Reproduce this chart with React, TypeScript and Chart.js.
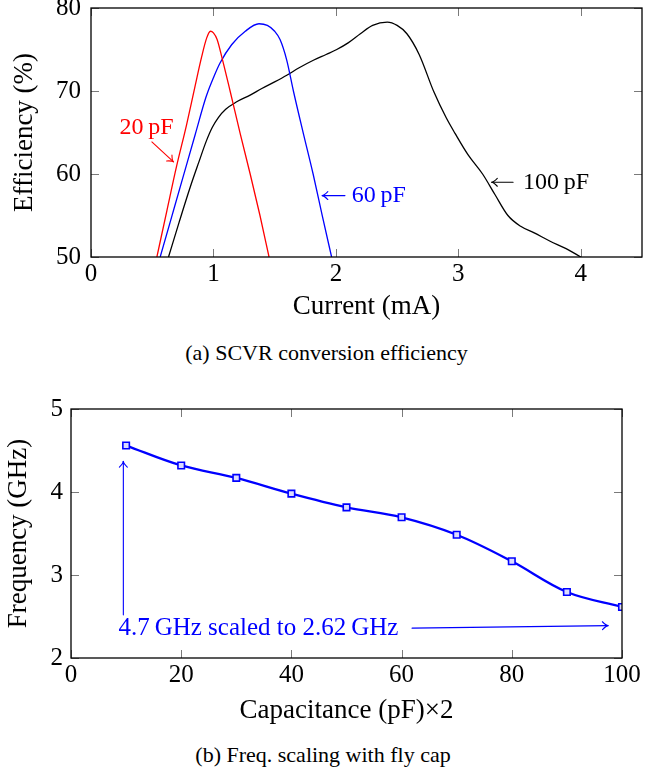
import React, { useEffect, useRef } from 'react';
import { Chart, registerables } from 'chart.js';

Chart.register(...registerables);

const SERIF = "'Liberation Serif', 'Times New Roman', Times, serif";

// ---------------- (a) SCVR conversion efficiency ----------------
const effXTicks = [0, 1, 2, 3, 4];
const effYTicks = [50, 60, 70, 80];

const cap20X = [0.538, 0.62, 0.7, 0.78, 0.85, 0.905, 0.945, 0.975, 1.0, 1.03, 1.07, 1.136, 1.218, 1.3, 1.38, 1.454];
const cap20Y = [50, 55.6, 61.0, 65.9, 70.6, 74.2, 76.4, 77.2, 77.0, 76.2, 74.0, 70, 64.9, 60, 55, 50];

const cap60X = [0.565, 0.66, 0.755, 0.85, 0.94, 1.0, 1.055, 1.15, 1.26, 1.372, 1.44, 1.5, 1.544, 1.599, 1.653, 1.734, 1.814, 1.89, 1.965];
const cap60Y = [50, 54.9, 59.8, 64.7, 69.3, 71.6, 73.4, 75.6, 77.2, 78.1, 77.9, 77.2, 76.2, 73.7, 70, 64.9, 60, 54.9, 50];

const cap100X = [0.633, 0.72, 0.81, 0.88, 0.94, 0.99, 1.04, 1.1, 1.19, 1.3, 1.395, 1.5, 1.599, 1.7, 1.816, 1.92, 2.007, 2.1, 2.2, 2.3, 2.42, 2.5, 2.58, 2.68, 2.8, 2.9, 2.973, 3.08, 3.198, 3.3, 3.405, 3.509, 3.62, 3.75, 3.88, 4.0];
const cap100Y = [50, 54.2, 58.4, 61.4, 63.9, 65.6, 66.8, 67.8, 68.7, 69.5, 70.3, 71.1, 71.9, 72.8, 73.7, 74.4, 75.0, 75.8, 76.9, 77.9, 78.3, 77.9, 76.9, 74.4, 69.9, 66.8, 64.9, 62.3, 60.0, 57.5, 55.0, 53.7, 52.9, 51.9, 51.0, 50];

const effSeriesNames = ['20 pF', '60 pF', '100 pF'];
const effSeriesColors = ['#ff0000', '#0000ff', '#000000'];
const effLabelText = ['20\u2009pF', '60\u2009pF', '100\u2009pF'];
const effLabelX = [0.233, 2.13, 3.528];
const effLabelY = [65.6, 57.4, 59.0];
const effArrowX1 = [0.497, 2.074, 3.447];
const effArrowY1 = [63.86, 57.4, 59.0];
const effArrowX2 = [0.674, 1.887, 3.271];
const effArrowY2 = [61.45, 57.4, 59.0];

// ---------------- (b) Freq. scaling with fly cap ----------------
const capValues = [10, 20, 30, 40, 50, 60, 70, 80, 90, 100];
const freqValues = [4.56, 4.32, 4.17, 3.98, 3.815, 3.695, 3.485, 3.165, 2.795, 2.615];
const freqXTicks = [0, 20, 40, 60, 80, 100];
const freqYTicks = [2, 3, 4, 5];
const freqNote = '4.7\u2009GHz scaled to 2.62\u2009GHz';
const freqNoteX = 8.6;
const freqNoteY = 2.36;
const freqArrowX1 = [9.5, 61.9];
const freqArrowY1 = [2.52, 2.36];
const freqArrowX2 = [9.5, 97.5];
const freqArrowY2 = [4.37, 2.39];

// ---------------- helpers ----------------
function drawArrow(ctx: CanvasRenderingContext2D, x1: number, y1: number, x2: number, y2: number, color: string, lw: number) {
  ctx.save();
  ctx.strokeStyle = color;
  ctx.lineWidth = lw;
  ctx.lineCap = 'round';
  ctx.beginPath();
  ctx.moveTo(x1, y1);
  ctx.lineTo(x2, y2);
  ctx.stroke();
  const a = Math.atan2(y2 - y1, x2 - x1);
  const h = 7;
  const spread = 0.6;
  ctx.beginPath();
  ctx.moveTo(x2 - h * Math.cos(a - spread), y2 - h * Math.sin(a - spread));
  ctx.quadraticCurveTo(x2 - 2 * Math.cos(a), y2 - 2 * Math.sin(a), x2, y2);
  ctx.quadraticCurveTo(x2 - 2 * Math.cos(a), y2 - 2 * Math.sin(a), x2 - h * Math.cos(a + spread), y2 - h * Math.sin(a + spread));
  ctx.stroke();
  ctx.restore();
}

const framePlugin = {
  id: 'pgfFrame',
  afterDatasetsDraw(chart: any) {
    const { ctx, chartArea: a, scales } = chart;
    const L = 8;
    ctx.save();
    ctx.strokeStyle = '#7a7a7a';
    ctx.lineWidth = 1;
    for (const t of scales.x.ticks) {
      const px = Math.round(scales.x.getPixelForValue(t.value)) + 0.5;
      ctx.beginPath();
      ctx.moveTo(px, a.bottom);
      ctx.lineTo(px, a.bottom - L);
      ctx.moveTo(px, a.top);
      ctx.lineTo(px, a.top + L);
      ctx.stroke();
    }
    for (const t of scales.y.ticks) {
      const py = Math.round(scales.y.getPixelForValue(t.value)) + 0.5;
      ctx.beginPath();
      ctx.moveTo(a.left, py);
      ctx.lineTo(a.left + L, py);
      ctx.moveTo(a.right, py);
      ctx.lineTo(a.right - L, py);
      ctx.stroke();
    }
    ctx.strokeStyle = '#000';
    ctx.lineWidth = 1.3;
    ctx.strokeRect(a.left, a.top, a.right - a.left, a.bottom - a.top);
    ctx.restore();
  },
};

const effNotesPlugin = {
  id: 'effNotes',
  afterDatasetsDraw(chart: any) {
    const { ctx, scales } = chart;
    const sx = scales.x;
    const sy = scales.y;
    for (let i = 0; i < effLabelText.length; i++) {
      drawArrow(
        ctx,
        sx.getPixelForValue(effArrowX1[i]),
        sy.getPixelForValue(effArrowY1[i]),
        sx.getPixelForValue(effArrowX2[i]),
        sy.getPixelForValue(effArrowY2[i]),
        effSeriesColors[i],
        1.1
      );
      ctx.save();
      ctx.fillStyle = effSeriesColors[i];
      ctx.font = `24px ${SERIF}`;
      ctx.textAlign = 'left';
      ctx.textBaseline = 'middle';
      ctx.fillText(effLabelText[i], sx.getPixelForValue(effLabelX[i]), sy.getPixelForValue(effLabelY[i]));
      ctx.restore();
    }
  },
};

const freqNotesPlugin = {
  id: 'freqNotes',
  afterDatasetsDraw(chart: any) {
    const { ctx, scales } = chart;
    const sx = scales.x;
    const sy = scales.y;
    for (let i = 0; i < freqArrowX1.length; i++) {
      drawArrow(
        ctx,
        sx.getPixelForValue(freqArrowX1[i]),
        sy.getPixelForValue(freqArrowY1[i]),
        sx.getPixelForValue(freqArrowX2[i]),
        sy.getPixelForValue(freqArrowY2[i]),
        '#0000ff',
        1.1
      );
    }
    ctx.save();
    ctx.fillStyle = '#0000ff';
    ctx.font = `25px ${SERIF}`;
    ctx.textAlign = 'left';
    ctx.textBaseline = 'middle';
    ctx.fillText(freqNote, sx.getPixelForValue(freqNoteX), sy.getPixelForValue(freqNoteY));
    ctx.restore();
  },
};

function fixedBox(size: number, horizontal: boolean) {
  return (s: any) => {
    if (horizontal) s.height = size;
    else s.width = size;
    s.paddingLeft = 0;
    s.paddingRight = 0;
    s.paddingTop = 0;
    s.paddingBottom = 0;
  };
}

function tickFont() {
  return { family: SERIF, size: 25, lineHeight: 1.2 };
}
function titleFont() {
  return { family: SERIF, size: 27, lineHeight: 1.2 };
}
const noGrid = { display: false, drawTicks: false, tickLength: 0 };

function buildEff(canvas: HTMLCanvasElement) {
  const xs = [cap20X, cap60X, cap100X];
  const ys = [cap20Y, cap60Y, cap100Y];
  return new Chart(canvas, {
    type: 'line',
    data: {
      datasets: effSeriesNames.map((name, i) => ({
        label: name,
        data: xs[i].map((x, j) => ({ x, y: ys[i][j] })),
        borderColor: effSeriesColors[i],
        backgroundColor: effSeriesColors[i],
        borderWidth: 1.3,
        pointRadius: 0,
        cubicInterpolationMode: 'monotone',
        fill: false,
      })),
    },
    options: {
      responsive: false,
      animation: false,
      devicePixelRatio: 1,
      layout: { padding: { left: 0, top: 8, right: 20, bottom: 0 } },
      plugins: { legend: { display: false }, tooltip: { enabled: false } },
      scales: {
        x: {
          type: 'linear',
          min: 0,
          max: 4.5,
          grid: noGrid,
          border: { display: false },
          ticks: { color: '#000', font: tickFont(), padding: 2, maxRotation: 0, autoSkip: false },
          title: { display: true, text: 'Current (mA)', color: '#000', font: titleFont(), padding: { top: 0, bottom: 12 } },
          afterBuildTicks: (s: any) => {
            s.ticks = effXTicks.map((v) => ({ value: v }));
          },
          afterFit: fixedBox(78, true),
        },
        y: {
          type: 'linear',
          min: 50,
          max: 80,
          grid: noGrid,
          border: { display: false },
          ticks: { color: '#000', font: tickFont(), padding: 10 },
          title: { display: true, text: 'Efficiency (%)', color: '#000', font: titleFont(), padding: { top: 9, bottom: 0 } },
          afterBuildTicks: (s: any) => {
            s.ticks = effYTicks.map((v) => ({ value: v }));
          },
          afterFit: fixedBox(91, false),
        },
      },
    } as any,
    plugins: [framePlugin, effNotesPlugin],
  });
}

function buildFreq(canvas: HTMLCanvasElement) {
  return new Chart(canvas, {
    type: 'line',
    data: {
      datasets: [
        {
          label: 'Frequency',
          data: capValues.map((x, i) => ({ x, y: freqValues[i] })),
          borderColor: '#0000ff',
          backgroundColor: '#ffffff',
          borderWidth: 2.4,
          tension: 0.35,
          pointStyle: 'rect',
          pointRadius: 4.6,
          pointBorderWidth: 1.6,
          pointBorderColor: '#0000ff',
          pointBackgroundColor: '#dcdcff',
          fill: false,
        },
      ],
    },
    options: {
      responsive: false,
      animation: false,
      devicePixelRatio: 1,
      layout: { padding: { left: 0, top: 19, right: 40, bottom: 0 } },
      plugins: { legend: { display: false }, tooltip: { enabled: false } },
      scales: {
        x: {
          type: 'linear',
          min: 0,
          max: 100,
          grid: noGrid,
          border: { display: false },
          ticks: { color: '#000', font: tickFont(), padding: 2, maxRotation: 0, autoSkip: false },
          title: { display: true, text: 'Capacitance (pF)\u00d72', color: '#000', font: titleFont(), padding: { top: 0, bottom: 8 } },
          afterBuildTicks: (s: any) => {
            s.ticks = freqXTicks.map((v) => ({ value: v }));
          },
          afterFit: fixedBox(77, true),
        },
        y: {
          type: 'linear',
          min: 2,
          max: 5,
          grid: noGrid,
          border: { display: false },
          ticks: { color: '#000', font: tickFont(), padding: 8 },
          title: { display: true, text: 'Frequency (GHz)', color: '#000', font: titleFont(), padding: { top: 3, bottom: 0 } },
          afterBuildTicks: (s: any) => {
            s.ticks = freqYTicks.map((v) => ({ value: v }));
          },
          afterFit: fixedBox(71, false),
        },
      },
    } as any,
    plugins: [framePlugin, freqNotesPlugin],
  });
}

function ChartCanvas({ build, top, width, height }: { build: (c: HTMLCanvasElement) => Chart; top: number; width: number; height: number }) {
  const ref = useRef<HTMLCanvasElement>(null);
  useEffect(() => {
    const chart = build(ref.current as HTMLCanvasElement);
    return () => chart.destroy();
  }, [build]);
  return (
    <canvas
      ref={ref}
      width={width}
      height={height}
      style={{ position: 'absolute', left: 0, top, width, height }}
    />
  );
}

const captionStyle: React.CSSProperties = {
  position: 'absolute',
  left: 0,
  fontFamily: SERIF,
  fontSize: 22,
  lineHeight: '26px',
  textAlign: 'center',
  color: '#000',
  whiteSpace: 'nowrap',
};

export default function App() {
  return (
    <div style={{ position: 'absolute', left: 0, top: 0, width: 662, height: 773, background: '#fff', overflow: 'hidden' }}>
      <ChartCanvas build={buildEff} top={0} width={662} height={335} />
      <div style={{ ...captionStyle, top: 340, width: 653 }}>(a) SCVR conversion efficiency</div>
      <ChartCanvas build={buildFreq} top={390} width={662} height={345} />
      <div style={{ ...captionStyle, top: 742, width: 646 }}>(b) Freq. scaling with fly cap</div>
    </div>
  );
}
